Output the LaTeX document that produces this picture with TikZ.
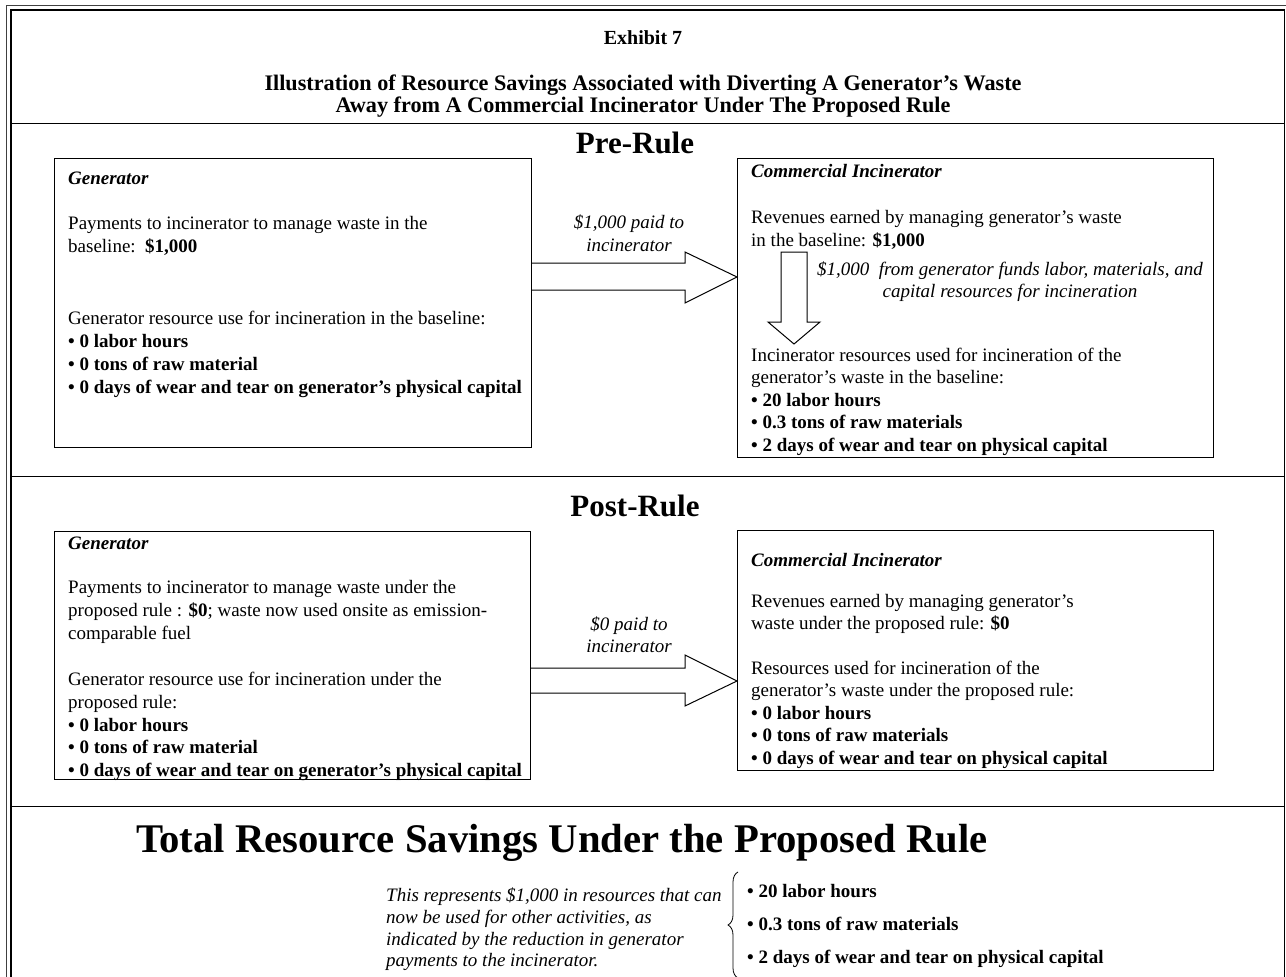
\documentclass[tikz,border=0pt]{standalone}
\usepackage{fontspec}
\setmainfont{Liberation Serif}
\usetikzlibrary{calc,decorations.pathreplacing}
\begin{document}
\begin{tikzpicture}[x=1pt,y=-1pt,
  body/.style={font=\fontsize{19}{22}\selectfont, anchor=base west, inner sep=0pt},
  hd/.style={font=\fontsize{19}{22}\selectfont\bfseries\itshape, anchor=base west, inner sep=0pt},
  bul/.style={font=\fontsize{19}{22}\selectfont\bfseries, anchor=base west, inner sep=0pt},
  lab/.style={font=\fontsize{19}{22}\selectfont\itshape, anchor=base, inner sep=0pt},
  labl/.style={font=\fontsize{19}{22}\selectfont\itshape, anchor=base west, inner sep=0pt},
  tit/.style={font=\fontsize{22.2}{26}\selectfont\bfseries, anchor=base, inner sep=0pt},
  sec/.style={font=\fontsize{31}{36}\selectfont\bfseries, anchor=base, inner sep=0pt},
  box/.style={draw, line width=1pt, anchor=north west, inner sep=0pt},
  blk/.style={draw, line width=1pt, line join=miter},
  rule/.style={draw, line width=1pt},
]
\useasboundingbox (0,0) rectangle (1286,977);
% double frame
\draw[line width=0.9pt, black!75] (1286,5.5) -- (6.5,5.5) -- (6.5,977);
\draw[line width=1.4pt] (11,977) -- (11,10) -- (1284.5,10) -- (1284.5,977);
% dividers
\draw[rule] (11,123) -- (1284.5,123);
\draw[rule] (11,476) -- (1284.5,476);
\draw[rule] (11,806) -- (1284.5,806);

% title
\node[font=\fontsize{20}{24}\selectfont\bfseries, anchor=base, inner sep=0pt] (ex) at (643,44) {Exhibit 7};
\node[tit] (t1) at (643,90) {Illustration of Resource Savings Associated with Diverting A Generator’s Waste};
\node[tit] (t2) at (643,112) {Away from A Commercial Incinerator Under The Proposed Rule};

% Pre-Rule
\node[sec] (pre) at (635,153) {Pre-Rule};
\node[box, minimum width=477pt, minimum height=289pt] (pregen) at (54,158) {};
\node[box, minimum width=476pt, minimum height=299pt] (preinc) at (737,158) {};

\node[hd] (pg0) at (68,184) {Generator};
\node[body] (pg1) at (68,229) {Payments to incinerator to manage waste in the};
\node[body] (pg2) at (68,252) {baseline:\ \ \textbf{\$1,000}};
\node[body] (pg3) at (68,324) {Generator resource use for incineration in the baseline:};
\node[bul] (pg4) at (68,347) {• 0 labor hours};
\node[bul] (pg5) at (68,370) {• 0 tons of raw material};
\node[bul] (pg6) at (68,393) {• 0 days of wear and tear on generator’s physical capital};

\node[lab] (pl1) at (629,228) {\$1,000 paid to};
\node[lab] (pl2) at (629,251) {incinerator};

\node[hd] (pi0) at (751,177) {Commercial Incinerator};
\node[body] (pi1) at (751,223) {Revenues earned by managing generator’s waste};
\node[body] (pi2) at (751,246) {in the baseline: \textbf{\$1,000}};
\node[lab] (pi3) at (1010,275) {\$1,000\ \ from generator funds labor, materials, and};
\node[lab] (pi4) at (1010,297) {capital resources for incineration};
\node[body] (pi5) at (751,361) {Incinerator resources used for incineration of the};
\node[body] (pi6) at (751,383) {generator’s waste in the baseline:};
\node[bul] (pi7) at (751,406) {• 20 labor hours};
\node[bul] (pi8) at (751,428) {• 0.3 tons of raw materials};
\node[bul] (pi9) at (751,451) {• 2 days of wear and tear on physical capital};

% pre arrows
\draw[blk] (pregen.east |- 0,263) -- (685,263) -- (685,252) -- (preinc.west |- 0,277)
  -- (685,303) -- (685,290) -- (pregen.east |- 0,290);
\draw[blk] (781,252) -- (807,252) -- (807,322) -- (820,322) -- (794,344)
  -- (768,322) -- (781,322) -- cycle;

% Post-Rule
\node[sec] (post) at (635,516) {Post-Rule};
\node[box, minimum width=476pt, minimum height=248pt] (postgen) at (54,531) {};
\node[box, minimum width=476pt, minimum height=240pt] (postinc) at (737,530) {};

\node[hd] (qg0) at (68,549) {Generator};
\node[body] (qg1) at (68,593) {Payments to incinerator to manage waste under the};
\node[body] (qg2) at (68,616) {proposed rule : \textbf{\$0}; waste now used onsite as emission-};
\node[body] (qg3) at (68,639) {comparable fuel};
\node[body] (qg4) at (68,685) {Generator resource use for incineration under the};
\node[body] (qg5) at (68,708) {proposed rule:};
\node[bul] (qg6) at (68,731) {• 0 labor hours};
\node[bul] (qg7) at (68,753) {• 0 tons of raw material};
\node[bul] (qg8) at (68,776) {• 0 days of wear and tear on generator’s physical capital};

\node[lab] (ql1) at (629,630) {\$0 paid to};
\node[lab] (ql2) at (629,652) {incinerator};

\node[hd] (qi0) at (751,566) {Commercial Incinerator};
\node[body] (qi1) at (751,607) {Revenues earned by managing generator’s};
\node[body] (qi2) at (751,629) {waste under the proposed rule: \textbf{\$0}};
\node[body] (qi3) at (751,674) {Resources used for incineration of the};
\node[body] (qi4) at (751,696) {generator’s waste under the proposed rule:};
\node[bul] (qi5) at (751,719) {• 0 labor hours};
\node[bul] (qi6) at (751,741) {• 0 tons of raw materials};
\node[bul] (qi7) at (751,764) {• 0 days of wear and tear on physical capital};

\draw[blk] (postgen.east |- 0,668) -- (685,668) -- (685,655) -- (postinc.west |- 0,681)
  -- (685,706) -- (685,693) -- (postgen.east |- 0,693);

% Total
\node[font=\fontsize{40.7}{48}\selectfont\bfseries, anchor=base east, inner sep=0pt] (tot) at (988,852) {Total Resource Savings Under the Proposed Rule};
\node[labl] (s1) at (386,901) {This represents \$1,000 in resources that can};
\node[labl] (s2) at (386,923) {now be used for other activities, as};
\node[labl] (s3) at (386,945) {indicated by the reduction in generator};
\node[labl] (s4) at (386,966) {payments to the incinerator.};
\draw[decorate, decoration={brace, amplitude=10pt}, line width=0.8pt] (738,978) -- (738,872);
\node[bul] (r1) at (747,897) {• 20 labor hours};
\node[bul] (r2) at (747,930) {• 0.3 tons of raw materials};
\node[bul] (r3) at (747,963) {• 2 days of wear and tear on physical capital};
\end{tikzpicture}
\end{document}
